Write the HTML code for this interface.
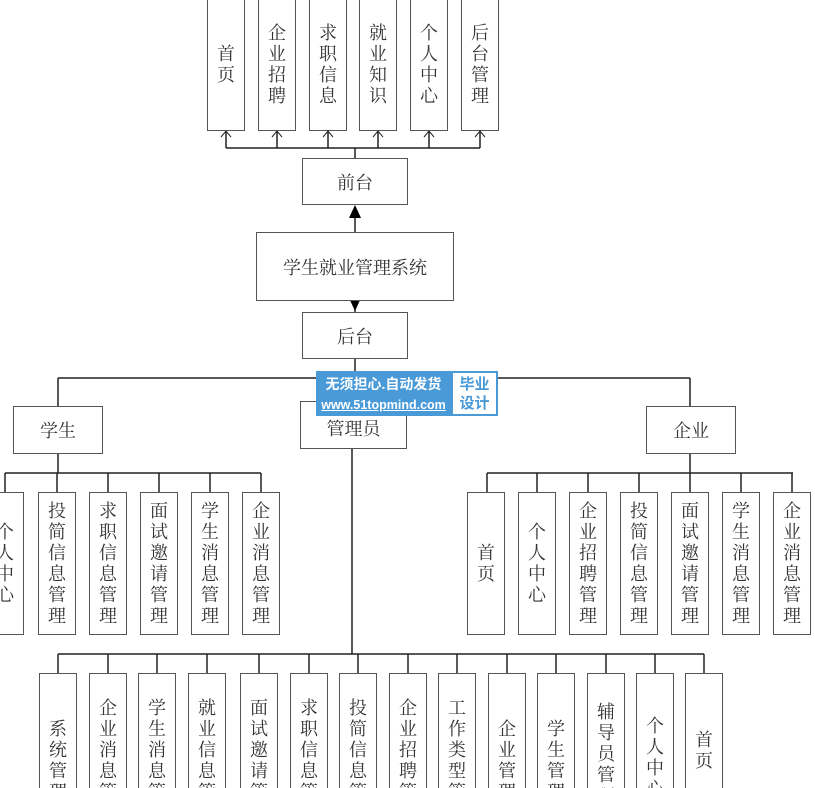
<!DOCTYPE html>
<html><head><meta charset="utf-8"><style>
html,body{margin:0;padding:0;background:#fff;width:815px;height:788px;overflow:hidden}
#w{position:relative;width:815px;height:788px;overflow:hidden;font-family:"Liberation Serif","Noto Serif CJK SC",serif;color:#333}
.b{position:absolute;box-sizing:border-box;border:1.5px solid #555;background:#fff;display:flex;align-items:center;justify-content:center;text-align:center;font-size:18px}
.v{width:38px;line-height:21px}
svg{position:absolute;left:0;top:0}
</style></head><body><div id="w">
<svg width="815" height="788">
<g stroke="#222" stroke-width="1.5" fill="none">
<path d="M226 148H480M226 148V131M277 148V131M328 148V131M378 148V131M429 148V131M480 148V131M355 148V158"/>
<path d="M221 137L226 131L231 137M272 137L277 131L282 137M323 137L328 131L333 137M373 137L378 131L383 137M424 137L429 131L434 137M475 137L480 131L485 137" stroke-width="1"/>
<path d="M355 216V232M355 300V312"/>
<path d="M355 358V378M58 378H690M58 378V406M690 378V406M352 378V401"/>
<path d="M58 453V473M5 473H261M5 473V492M57 473V492M108 473V492M159 473V492M210 473V492M261 473V492"/>
<path d="M690 453V473M487 473H793M487 473V492M537 473V492M588 473V492M639 473V492M690 473V492M741 473V492M792 473V492"/>
<path d="M352 448V654M58 654H704M58 654V673M108 654V673M157 654V673M207 654V673M259 654V673M309 654V673M358 654V673M408 654V673M457 654V673M507 654V673M556 654V673M606 654V673M655 654V673M704 654V673"/>
</g>
<path d="M355 205L349 218H361Z" fill="#000"/>
<path d="M355 311L349 298H361Z" fill="#000"/>
</svg>

<div class="b v" style="left:207px;top:-2px;height:133px">首<br>页</div>
<div class="b v" style="left:258px;top:-2px;height:133px">企<br>业<br>招<br>聘</div>
<div class="b v" style="left:309px;top:-2px;height:133px">求<br>职<br>信<br>息</div>
<div class="b v" style="left:359px;top:-2px;height:133px">就<br>业<br>知<br>识</div>
<div class="b v" style="left:410px;top:-2px;height:133px">个<br>人<br>中<br>心</div>
<div class="b v" style="left:461px;top:-2px;height:133px">后<br>台<br>管<br>理</div>

<div class="b" style="left:302px;top:158px;width:106px;height:47px">前台</div>
<div class="b" style="left:256px;top:232px;width:198px;height:69px">学生就业管理系统</div>
<div class="b" style="left:302px;top:312px;width:106px;height:47px">后台</div>

<div class="b" style="left:13px;top:406px;width:90px;height:48px">学生</div>
<div class="b" style="left:300px;top:401px;width:107px;height:48px;padding-top:6px">管理员</div>
<div class="b" style="left:646px;top:406px;width:90px;height:48px">企业</div>

<div style="position:absolute;left:316px;top:371px;width:135px;height:45px;background:#4a9ad8;color:#fff;font-family:'Liberation Sans','Noto Sans CJK SC',sans-serif;font-weight:bold;font-size:14px;line-height:20px;text-align:center;padding-top:3px;box-sizing:border-box">无须担心.自动发货<br><span style="font-size:12.5px;text-decoration:underline">www.51topmind.com</span></div>
<div style="position:absolute;left:451px;top:371px;width:47px;height:45px;background:#fff;border:2px solid #4a9ad8;box-sizing:border-box;color:#4a9ad8;font-family:'Liberation Sans','Noto Sans CJK SC',sans-serif;font-weight:bold;font-size:15px;line-height:19px;text-align:center;padding-top:2px">毕业<br>设计</div>

<div class="b v" style="left:-14px;top:492px;height:143px">个<br>人<br>中<br>心</div>
<div class="b v" style="left:38px;top:492px;height:143px">投<br>简<br>信<br>息<br>管<br>理</div>
<div class="b v" style="left:89px;top:492px;height:143px">求<br>职<br>信<br>息<br>管<br>理</div>
<div class="b v" style="left:140px;top:492px;height:143px">面<br>试<br>邀<br>请<br>管<br>理</div>
<div class="b v" style="left:191px;top:492px;height:143px">学<br>生<br>消<br>息<br>管<br>理</div>
<div class="b v" style="left:242px;top:492px;height:143px">企<br>业<br>消<br>息<br>管<br>理</div>

<div class="b v" style="left:467px;top:492px;height:143px">首<br>页</div>
<div class="b v" style="left:518px;top:492px;height:143px">个<br>人<br>中<br>心</div>
<div class="b v" style="left:569px;top:492px;height:143px">企<br>业<br>招<br>聘<br>管<br>理</div>
<div class="b v" style="left:620px;top:492px;height:143px">投<br>简<br>信<br>息<br>管<br>理</div>
<div class="b v" style="left:671px;top:492px;height:143px">面<br>试<br>邀<br>请<br>管<br>理</div>
<div class="b v" style="left:722px;top:492px;height:143px">学<br>生<br>消<br>息<br>管<br>理</div>
<div class="b v" style="left:773px;top:492px;height:143px">企<br>业<br>消<br>息<br>管<br>理</div>

<div class="b v" style="left:39px;top:673px;height:176px">系<br>统<br>管<br>理</div>
<div class="b v" style="left:89px;top:673px;height:176px">企<br>业<br>消<br>息<br>管<br>理</div>
<div class="b v" style="left:138px;top:673px;height:176px">学<br>生<br>消<br>息<br>管<br>理</div>
<div class="b v" style="left:188px;top:673px;height:176px">就<br>业<br>信<br>息<br>管<br>理</div>
<div class="b v" style="left:240px;top:673px;height:176px">面<br>试<br>邀<br>请<br>管<br>理</div>
<div class="b v" style="left:290px;top:673px;height:176px">求<br>职<br>信<br>息<br>管<br>理</div>
<div class="b v" style="left:339px;top:673px;height:176px">投<br>简<br>信<br>息<br>管<br>理</div>
<div class="b v" style="left:389px;top:673px;height:176px">企<br>业<br>招<br>聘<br>管<br>理</div>
<div class="b v" style="left:438px;top:673px;height:176px">工<br>作<br>类<br>型<br>管<br>理</div>
<div class="b v" style="left:488px;top:673px;height:176px">企<br>业<br>管<br>理</div>
<div class="b v" style="left:537px;top:673px;height:176px">学<br>生<br>管<br>理</div>
<div class="b v" style="left:587px;top:673px;height:176px;padding-bottom:14px">辅<br>导<br>员<br>管<br>理</div>
<div class="b v" style="left:636px;top:673px;height:176px;padding-bottom:6px">个<br>人<br>中<br>心</div>
<div class="b v" style="left:685px;top:673px;height:176px;padding-bottom:20px">首<br>页</div>
</div></body></html>
